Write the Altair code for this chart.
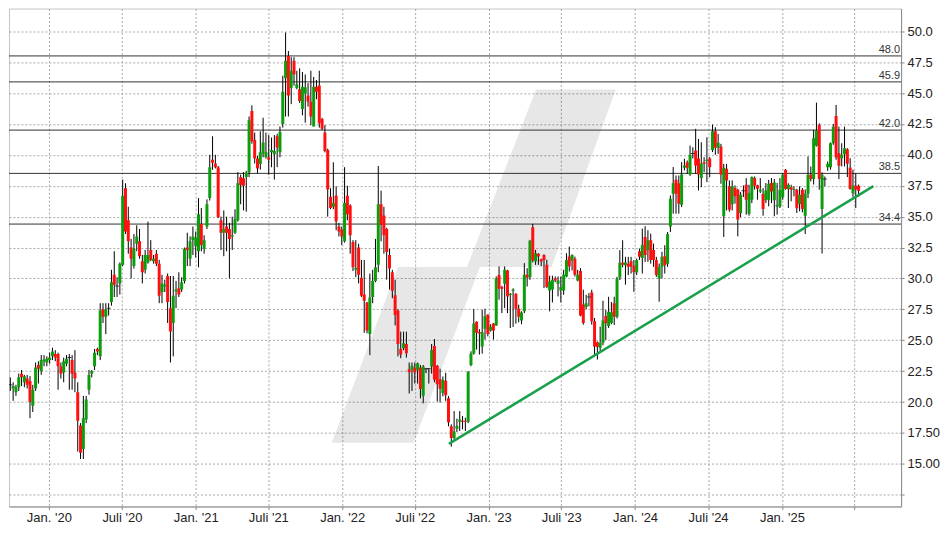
import altair as alt
import pandas as pd

GREEN = "#0c9c0c"
RED = "#ff1010"

first_week = "2019-09-20"

opens = [
    20.6, 21.4, 21.1, 20.8, 21.2, 22.3, 21.6, 21.9, 21.7, 19.7,
    21.1, 23.0, 22.5, 23.3, 23.2, 23.4, 23.7, 23.9, 23.9, 22.9,
    22.4, 23.1, 23.6, 23.4, 22.4, 20.8, 18.1, 16.2, 18.6, 21.0,
    22.3, 22.9, 24.3, 23.7, 27.5, 26.9, 27.6, 28.1, 30.3, 29.4,
    29.6, 31.1, 37.3, 34.7, 32.5, 31.0, 32.8, 33.0, 31.4, 30.7,
    31.3, 32.3, 31.4, 32.0, 31.2, 28.9, 29.35, 30.2, 27.6, 26.4,
    28.95, 29.2, 29.1, 29.8, 32.5, 31.6, 33.1, 32.6, 32.2, 34.4,
    32.4, 34.2, 36.5, 39.6, 39.3, 39.0, 34.7, 33.7, 34.2, 34.0,
    33.4, 33.7, 34.7, 38.2, 38.1, 38.2, 38.6, 43.55, 41.2, 39.7,
    39.25, 40.1, 39.8, 39.8, 40.2, 40.05, 41.5, 40.2, 42.5, 46.2,
    48.0, 45.4, 47.6, 45.4, 45.3, 43.7, 44.97, 44.8, 44.3, 42.3,
    45.5, 45.6, 42.9, 41.8, 40.4, 36.6, 35.8, 36.7, 34.2, 33.95,
    33.0, 36.7, 35.9, 32.95, 30.7, 32.5, 30.05, 28.7, 28.05, 25.5,
    28.5, 29.8, 31.1, 36.0, 35.1, 34.0, 31.9, 30.5, 28.65, 27.4,
    24.3, 24.35, 24.7, 22.66, 22.6, 22.8, 22.6, 22.8, 20.51, 22.69,
    22.7, 22.88, 24.54, 22.93, 21.85, 20.73, 21.72, 20.32, 18.04, 17.1,
    17.85, 18.4, 18.5, 18.5, 18.4, 23.0, 23.93, 26.5, 25.66, 24.5,
    25.94, 27.07, 25.8, 26.35, 26.2, 30.27, 29.3, 29.57, 30.65, 28.66,
    29.0, 28.76, 27.55, 26.6, 27.34, 30.3, 30.1, 34.14, 31.37, 31.99,
    31.56, 31.9, 31.1, 29.03, 29.1, 30.0, 29.57, 29.03, 29.03, 30.16,
    31.77, 31.45, 31.6, 29.84, 30.6, 27.9, 27.7, 28.5, 28.87,
    26.53, 24.84, 24.4, 24.8, 26.97, 26.16, 26.4, 28.0, 26.9, 30.08,
    31.27, 31.06, 31.2, 31.4, 31.0, 30.5, 32.2, 31.65, 33.36, 32.28,
    33.1, 32.3, 31.5, 30.0, 30.94, 31.8, 31.2, 34.2, 36.86, 37.98,
    37.7, 35.97, 38.95, 39.4, 38.4, 40.1, 40.35, 39.7, 38.12, 39.4,
    39.5, 39.7, 40.4, 41.9, 40.57, 40.67, 35.03, 38.87, 37.45, 36.0,
    37.34, 37.18, 35.3, 37.1, 37.58, 35.24, 36.37, 38.12, 37.53,
    37.04, 36.83, 36.32, 36.37, 37.72, 36.32, 35.83, 35.83, 36.59, 38.79,
    37.23, 37.37, 37.18, 37.18, 36.0, 37.18, 35.08, 36.85, 38.39, 38.04,
    40.73, 42.42, 35.62, 38.04, 39.0, 39.0, 40.94, 43.15, 40.13, 39.73,
    40.05, 40.46, 38.98, 36.9, 37.5, 37.5,
]

highs = [
    22.0, 22.0, 21.6, 21.4, 22.3, 22.6, 22.2, 22.2, 22.1, 21.4,
    23.2, 23.3, 23.8, 23.8, 23.7, 24.0, 24.4, 24.2, 24.0, 23.2,
    23.6, 23.8, 23.9, 23.8, 24.2, 21.6, 18.3, 20.5, 20.5, 22.6,
    22.6, 24.3, 24.4, 28.0, 28.0, 28.0, 28.0, 30.7, 32.2, 30.1,
    31.3, 38.0, 37.7, 35.8, 33.2, 33.6, 34.3, 34.0, 31.9, 32.3,
    34.6, 33.1, 31.9, 32.3, 31.5, 30.3, 29.9, 30.4, 30.2, 30.2,
    29.8, 30.5, 30.1, 32.5, 33.7, 33.4, 34.2, 33.8, 36.5, 35.7,
    33.5, 36.4, 40.0, 41.5, 40.0, 39.1, 35.0, 35.5, 35.0, 34.5,
    35.0, 35.6, 38.6, 38.4, 38.6, 38.7, 43.1, 44.0, 41.8, 39.9,
    41.9, 43.0, 41.8, 41.6, 41.4, 41.6, 41.7, 42.3, 46.4, 49.9,
    48.4, 47.9, 47.9, 46.8, 47.0, 46.7, 46.5, 45.8, 46.8, 46.3,
    46.05, 46.8, 43.0, 42.4, 40.5, 37.3, 39.4, 37.45, 34.5, 34.2,
    39.0, 37.5, 36.0, 33.1, 33.1, 32.8, 31.5, 31.5, 28.1, 30.4,
    30.7, 33.2, 39.1, 37.1, 35.8, 34.1, 32.4, 30.7, 29.9, 27.5,
    25.7, 25.7, 25.7, 23.2, 23.2, 23.2, 23.2, 23.0, 23.0, 22.74,
    22.74, 24.7, 25.1, 23.0, 22.7, 22.07, 22.37, 20.48, 18.2, 19.27,
    18.66, 19.27, 18.87, 18.74, 22.5, 24.11, 27.53, 26.53, 25.9, 27.47,
    27.55, 27.1, 26.3, 26.4, 30.16, 30.97, 29.4, 30.97, 30.7, 28.82,
    29.2, 28.8, 27.88, 27.34, 31.24, 30.83, 33.12, 34.41, 32.31, 32.04,
    31.6, 31.95, 31.51, 30.22, 30.22, 30.16, 30.16, 30.16, 30.7, 32.04,
    32.58, 31.95, 31.77, 30.7, 30.83, 29.09, 28.68, 28.82, 29.09,
    26.8, 24.9, 26.1, 28.2, 27.45, 28.52, 28.1, 28.52, 30.13, 32.29,
    33.09, 31.75, 31.75, 31.75, 31.48, 31.61, 32.42, 34.03, 34.22, 33.9,
    33.63, 32.82, 31.75, 31.21, 32.15, 32.69, 33.76, 36.72, 39.01, 38.33,
    38.33, 39.41, 39.68, 39.54, 40.75, 40.62, 42.1, 41.29, 41.02, 39.81,
    41.42, 39.81, 42.45, 42.23, 41.69, 40.89, 39.27, 39.27, 37.93, 37.93,
    37.53, 37.26, 37.0, 37.53, 38.12, 37.58, 38.25, 38.25, 37.58,
    38.12, 37.31, 37.72, 37.98, 38.12, 38.04, 37.72, 38.12, 38.52, 38.85,
    37.7, 37.58, 37.45, 37.25, 37.45, 37.31, 37.2, 39.87, 39.06, 42.02,
    44.22, 42.55, 38.58, 38.25, 39.46, 41.0, 42.5, 44.03, 42.28, 40.94,
    42.28, 40.54, 39.73, 38.8, 38.5, 37.6,
]

lows = [
    20.2, 20.9, 20.1, 20.5, 20.9, 21.3, 21.2, 21.1, 18.7, 19.2,
    20.9, 21.5, 22.2, 22.9, 22.9, 23.1, 23.4, 23.3, 21.0, 21.9,
    21.6, 22.9, 21.0, 21.0, 20.8, 16.0, 15.4, 15.4, 18.3, 20.6,
    22.0, 22.6, 23.8, 23.4, 26.4, 25.5, 27.0, 27.8, 28.5, 28.5,
    28.7, 31.0, 33.6, 32.0, 30.0, 30.8, 32.2, 31.6, 29.6, 30.4,
    31.2, 31.4, 31.2, 31.0, 28.0, 28.0, 28.9, 26.4, 23.2, 23.7,
    27.6, 28.5, 28.9, 29.6, 31.0, 31.0, 31.9, 31.7, 30.9, 32.2,
    32.0, 34.0, 36.3, 38.8, 38.9, 34.9, 32.3, 31.8, 32.2, 30.0,
    32.3, 33.6, 34.6, 36.0, 35.5, 35.4, 38.2, 40.9, 39.3, 38.5,
    38.8, 39.8, 39.7, 38.4, 39.0, 38.0, 39.0, 39.8, 42.2, 43.1,
    43.1, 44.1, 45.6, 45.3, 44.2, 43.2, 42.6, 43.9, 42.4, 42.3,
    44.5, 42.2, 42.0, 40.2, 35.0, 35.6, 35.6, 33.9, 33.4, 32.7,
    32.9, 34.7, 32.0, 30.6, 30.1, 29.6, 28.5, 25.6, 25.56, 23.8,
    28.0, 29.7, 30.5, 33.0, 32.0, 29.9, 29.1, 28.4, 26.2, 23.7,
    23.55, 24.2, 23.6, 20.7, 20.9, 21.5, 21.5, 20.3, 19.9, 22.34,
    21.5, 22.3, 21.6, 20.05, 19.97, 20.46, 20.1, 18.04, 16.4, 16.96,
    17.58, 17.66, 17.8, 17.66, 18.3, 22.9, 23.84, 24.25, 23.84, 23.92,
    25.05, 25.32, 25.7, 25.05, 26.18, 28.28, 27.2, 27.61, 27.2, 25.99,
    26.08, 26.34, 26.45, 26.3, 27.2, 29.35, 29.89, 31.3, 31.1, 31.1,
    31.0, 29.22, 29.22, 27.34, 28.06, 29.7, 28.55, 28.06, 28.68, 30.1,
    30.56, 30.65, 30.16, 29.76, 26.94, 26.26, 27.5, 27.74, 26.26,
    23.71, 23.44, 24.1, 24.6, 25.03, 26.0, 26.3, 26.24, 26.77, 29.87,
    30.9, 29.5, 30.27, 30.4, 28.92, 30.27, 31.5, 30.4, 31.34, 31.34,
    31.2, 30.94, 30.13, 28.12, 30.0, 30.4, 30.94, 33.76, 35.24, 35.24,
    35.24, 35.78, 38.74, 38.47, 38.3, 39.7, 38.47, 37.12, 37.39, 38.6,
    37.8, 38.2, 40.22, 40.0, 40.08, 37.66, 33.36, 35.51, 35.4, 35.5,
    36.05, 33.41, 34.97, 36.59, 35.16, 35.08, 36.1, 37.18, 36.37,
    36.91, 35.08, 36.1, 35.83, 36.1, 35.03, 35.16, 35.7, 36.37, 37.18,
    35.7, 36.24, 36.64, 35.3, 35.43, 35.35, 33.6, 36.5, 37.85, 37.6,
    40.67, 37.18, 32.02, 37.45, 38.7, 38.8, 40.81, 39.6, 38.04, 39.06,
    39.06, 38.2, 37.18, 36.6, 35.7, 36.6,
]

closes = [
    21.6, 21.4, 21.3, 21.2, 22.0, 22.0, 22.1, 21.4, 20.0, 21.0,
    22.8, 22.7, 23.4, 23.45, 23.5, 23.6, 24.1, 23.6, 22.9, 22.3,
    23.3, 23.5, 23.6, 22.3, 21.9, 18.5, 15.9, 18.7, 20.2, 22.2,
    22.5, 24.0, 24.1, 27.4, 26.9, 27.5, 27.6, 29.7, 29.5, 29.4,
    31.2, 36.7, 33.8, 33.0, 31.6, 32.4, 33.4, 31.8, 30.5, 31.9,
    31.9, 31.5, 31.6, 31.2, 28.6, 29.6, 29.5, 28.1, 25.7, 28.6,
    29.1, 28.7, 29.7, 32.4, 32.3, 33.0, 33.4, 33.3, 35.2, 32.7,
    33.1, 36.0, 39.0, 39.35, 39.0, 34.95, 33.7, 34.0, 33.7, 33.2,
    33.5, 34.8, 37.7, 37.55, 37.5, 38.55, 42.8, 41.1, 39.7, 38.9,
    40.2, 41.0, 40.2, 39.6, 40.4, 40.3, 40.6, 41.85, 45.1, 47.6,
    44.8, 46.8, 46.5, 45.7, 44.35, 45.5, 45.46, 44.3, 43.1, 45.5,
    45.1, 42.55, 42.1, 40.3, 37.2, 35.7, 36.1, 34.6, 33.8, 33.4,
    36.1, 35.2, 33.5, 30.9, 30.85, 30.3, 28.6, 28.2, 25.8, 28.45,
    29.8, 30.9, 36.0, 34.35, 33.5, 32.15, 30.8, 29.0, 27.05, 24.7,
    23.85, 24.75, 23.95, 22.42, 22.93, 22.42, 23.14, 21.05, 22.88, 22.69,
    22.7, 24.22, 21.8, 21.45, 21.08, 21.8, 20.56, 18.36, 17.1, 17.63,
    18.06, 18.6, 18.4, 18.4, 22.45, 23.93, 26.35, 25.6, 25.54, 25.65,
    26.94, 25.5, 26.1, 25.8, 30.0, 29.17, 29.17, 30.7, 28.55, 28.76,
    29.1, 27.55, 26.9, 27.25, 30.3, 30.08, 33.06, 31.45, 32.04, 31.77,
    31.37, 31.5, 29.3, 29.76, 29.9, 29.84, 29.84, 29.3, 30.3, 31.5,
    30.97, 31.9, 30.3, 30.3, 27.0, 26.4, 28.0, 28.5, 26.53,
    24.5, 24.46, 24.8, 26.6, 26.37, 27.3, 27.26, 26.9, 30.0, 31.27,
    31.1, 31.3, 30.94, 30.94, 30.5, 31.5, 31.75, 32.7, 31.9, 33.1,
    31.5, 31.5, 30.27, 30.94, 31.75, 31.07, 33.6, 36.45, 37.7, 36.86,
    36.05, 38.4, 39.14, 38.95, 40.0, 40.1, 39.14, 38.4, 39.3, 39.27,
    39.6, 39.0, 41.9, 40.57, 40.97, 38.4, 38.95, 37.93, 35.56, 37.45,
    36.64, 34.76, 36.8, 37.1, 36.37, 36.91, 38.2, 37.5, 37.26,
    37.18, 35.62, 37.12, 37.66, 37.04, 37.77, 35.97, 37.18, 38.39, 37.23,
    37.58, 37.18, 37.23, 35.67, 36.77, 35.62, 36.85, 38.39, 38.04, 41.34,
    41.96, 38.04, 38.39, 38.04, 39.27, 40.94, 42.28, 39.78, 39.11, 40.0,
    40.54, 39.27, 37.23, 37.5, 37.2, 37.1,
]

# horizontal levels
levels = [48.0, 45.9, 42.0, 38.5, 34.4]
level_labels = ["48.0", "45.9", "42.0", "38.5", "34.4"]

# trend line
trend_dates = ["2022-09-24", "2025-08-17"]
trend_values = [16.62, 37.47]

# watermark (two slanted bands), in data coordinates
wm_part = ["upper", "upper", "lower", "lower"]
wm_price = [45.29, 30.93, 30.93, 16.72]
wm_left = ["2023-04-29", "2022-11-08", "2022-05-20", "2021-12-06"]
wm_right = ["2023-11-14", "2023-06-07", "2022-12-10", "2022-06-28"]

y_ticks = [12.5, 15.0, 17.5, 20.0, 22.5, 25.0, 27.5, 30.0, 32.5, 35.0,
           37.5, 40.0, 42.5, 45.0, 47.5, 50.0]
x_ticks = [(y, m) for y in range(2020, 2026) for m in (1, 7)]

dates = pd.date_range(first_week, periods=len(opens), freq="7D").strftime("%Y-%m-%d").tolist()
df = pd.DataFrame({"date": dates, "open": opens, "high": highs, "low": lows, "close": closes})
lev_df = pd.DataFrame({"level": levels, "label": level_labels})
trend_df = pd.DataFrame({"date": trend_dates, "value": trend_values})
wm_df = pd.DataFrame({"part": wm_part, "price": wm_price, "left": wm_left, "right": wm_right})

FONT = "Liberation Sans"

xscale = alt.Scale(
    type="utc",
    domain=[alt.DateTime(year=2019, month=10, date=6, hours=3, utc=True),
            alt.DateTime(year=2025, month=10, date=12, hours=12, utc=True)],
)
yscale = alt.Scale(domain=[11.556, 51.832], nice=False, zero=False)

xaxis = alt.Axis(
    values=[alt.DateTime(year=y, month=m, date=1, utc=True) for y, m in x_ticks],
    labelExpr="utcmonth(datum.value) == 0 ? \"Jan. '\" + utcFormat(datum.value, '%y') : "
              "(utcyear(datum.value) == 2025 ? '' : \"Juli '\" + utcFormat(datum.value, '%y'))",
    grid=True, gridDash=[2, 2], gridColor="#a8a8a8", gridWidth=1,
    domainColor="#8a8a8a", tickColor="#8a8a8a", tickSize=3,
    labelFont=FONT, labelFontSize=13, labelColor="#222222", labelPadding=2,
    labelOverlap=False, labelFlush=False, title=None,
)
yaxis = alt.Axis(
    orient="right", values=y_ticks,
    labelExpr="datum.value < 14 ? '' : (datum.value == 15 ? '15.00' : "
              "(datum.value == 17.5 ? '17.50' : format(datum.value, '.1f')))",
    grid=True, gridDash=[2, 2], gridColor="#a8a8a8", gridWidth=1,
    domainColor="#8a8a8a", tickColor="#8a8a8a", tickSize=3,
    labelFont=FONT, labelFontSize=13, labelColor="#222222", labelPadding=3,
    labelOverlap=False, labelSeparation=0, labelFlush=False, title=None,
)


def X(field):
    return alt.X(field, scale=xscale, axis=xaxis, title=None)


def Y(field):
    return alt.Y(field, scale=yscale, axis=yaxis, title=None)


def wm_layer(part):
    return alt.Chart(wm_df).transform_filter(
        alt.datum.part == part
    ).mark_area(orient="horizontal", color="#000000", opacity=0.095).encode(
        y=Y("price:Q"),
        x=X("left:T"),
        x2="right:T",
    )


watermark_upper = wm_layer("upper")
watermark_lower = wm_layer("lower")

level_rules = alt.Chart(lev_df).mark_rule(color="#333333", strokeWidth=1).encode(
    y=Y("level:Q"),
)
level_text = alt.Chart(lev_df).mark_text(
    align="right", baseline="bottom", dy=-1, font=FONT, fontSize=11, color="#333333"
).encode(
    x=alt.value(893),
    y=Y("level:Q"),
    text="label:N",
)

base = alt.Chart(df)
wicks = base.mark_rule(color="#000000", strokeWidth=1, clip=True).encode(
    x=X("date:T"),
    y=Y("low:Q"),
    y2="high:Q",
)
bodies = base.mark_bar(size=3, clip=True).encode(
    x=X("date:T"),
    y=Y("open:Q"),
    y2="close:Q",
    color=alt.condition("datum.close > datum.open", alt.value(GREEN), alt.value(RED)),
)
dojis = base.transform_filter("datum.close == datum.open").mark_tick(
    orient="horizontal", size=4, thickness=1, color="#000000", clip=True
).encode(
    x=X("date:T"),
    y=Y("close:Q"),
)

trend = alt.Chart(trend_df).mark_line(color="#19a04a", strokeWidth=2.5).encode(
    x=X("date:T"),
    y=Y("value:Q"),
)

chart = alt.layer(
    watermark_upper, watermark_lower, level_rules, wicks, bodies, dojis, trend, level_text
).properties(
    width=894, height=499, padding=0,
).configure_view(stroke="#c4c4c4", strokeWidth=1).configure_axis(labelOverlap=False)

chart.save("out.html", embed_options={"renderer": "svg", "actions": False})
